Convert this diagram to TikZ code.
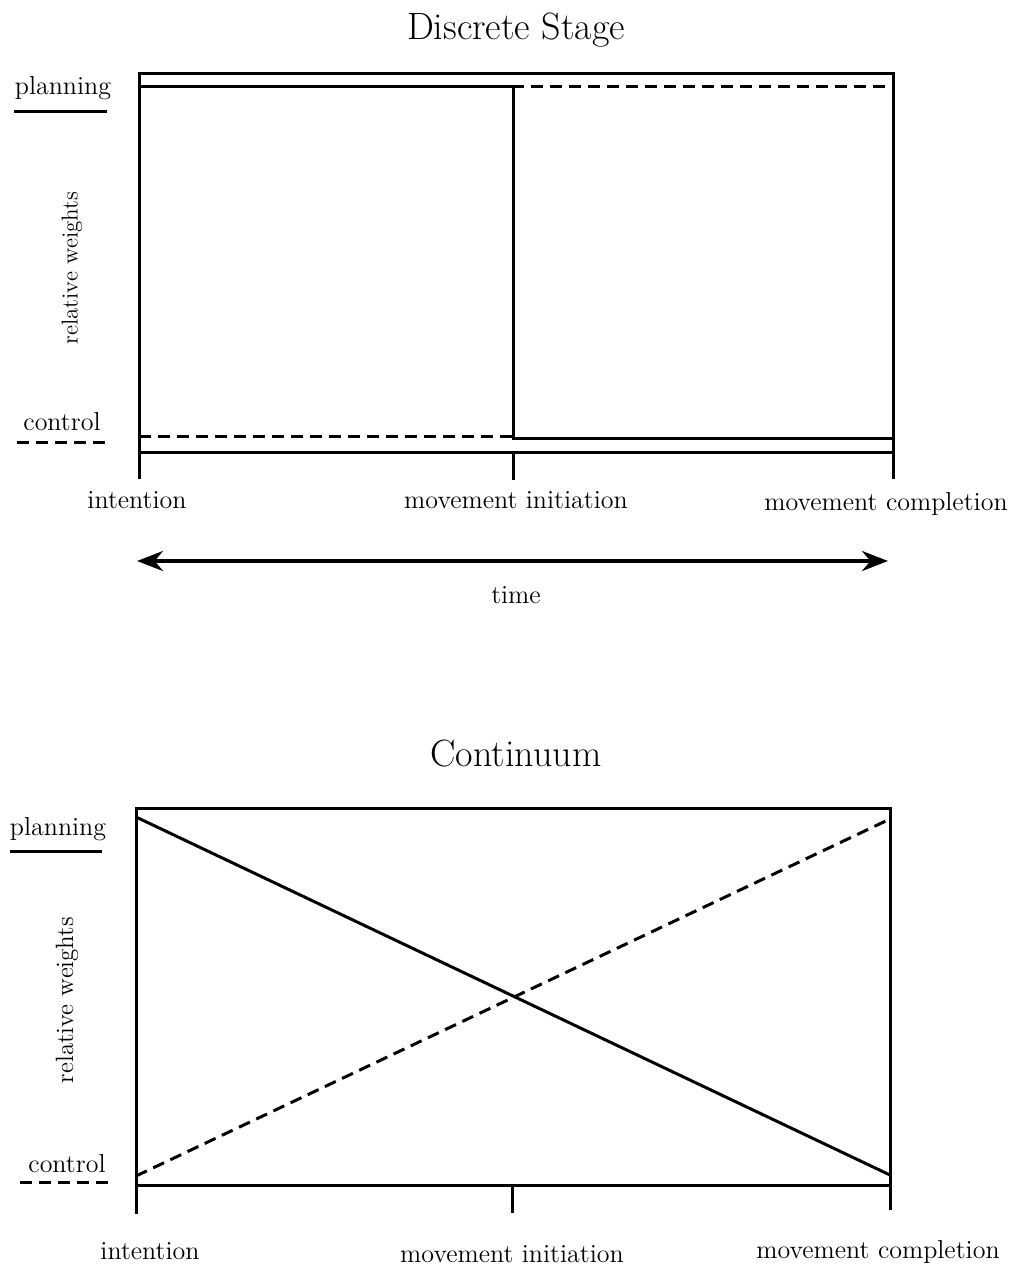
\documentclass[tikz,border=0pt]{standalone}
\usetikzlibrary{arrows.meta}
\begin{document}
\begin{tikzpicture}[x=0.5pt,y=-0.5pt,
  frame/.style={line width=1.5pt, line cap=rect},
  solidcurve/.style={line width=1.5pt},
  dashcurve/.style={line width=1.5pt, dash pattern=on 6pt off 3.5pt},
  lbl/.style={font=\fontsize{13}{15}\selectfont, anchor=base, inner sep=0pt},
  ttl/.style={font=\fontsize{19}{22}\selectfont, anchor=base, inner sep=0pt},
  axlbl/.style={font=\fontsize{11.5}{14}\selectfont, rotate=90, inner sep=0pt}]
\useasboundingbox (0,0) rectangle (1016,1268);

% ===== Top panel: Discrete Stage =====
\node[ttl] (t1) at (516,40) {Discrete Stage};
\coordinate (A1) at (139,74);
\coordinate (B1) at (893,74);
\coordinate (L1) at (139,477);
\coordinate (R1) at (893,477);
\coordinate (BL1) at (139,452);
\coordinate (BR1) at (893,452);
\coordinate (M1) at (513,452);
\coordinate (MT1) at (513,478);
\draw[frame] (L1) -- (A1) -- (B1) -- (R1);
\draw[frame] (BL1) -- (BR1);
\draw[frame] (M1) -- (MT1);
% planning (solid)
\coordinate (p1a) at (139,87);
\coordinate (p1b) at (513,87);
\coordinate (p1c) at (513,438);
\coordinate (p1d) at (893,438);
\draw[solidcurve] (p1a) -- (p1b) -- (p1c) -- (p1d);
% control (dashed)
\coordinate (c1a) at (139,436);
\coordinate (c1b) at (513,436);
\coordinate (c1c) at (513,87);
\coordinate (c1d) at (893,87);
\draw[dashcurve] (c1a) -- (c1b) -- (c1c) -- (c1d);
% legend
\node[lbl] (plan1) at (63,95) {planning};
\coordinate (pu1a) at (14,112);
\coordinate (pu1b) at (107,112);
\draw[solidcurve] (pu1a) -- (pu1b);
\node[lbl] (ctrl1) at (62,430) {control};
\coordinate (cu1a) at (17,442);
\coordinate (cu1b) at (110,442);
\draw[dashcurve] (cu1a) -- (cu1b);
\node[axlbl] (rw1) at (72,268) {relative weights};
% x labels
\node[lbl] (int1) at (137,508) {intention};
\node[lbl] (ini1) at (516,508) {movement initiation};
\node[lbl] (com1) at (886,510) {movement completion};
% time arrow
\coordinate (ta) at (137,561);
\coordinate (tb) at (888,561);
\draw[line width=2pt, {Stealth[length=13pt,width=10pt]}-{Stealth[length=13pt,width=10pt]}] (ta) -- (tb);
\node[lbl] (time) at (516,603) {time};

% ===== Bottom panel: Continuum =====
\node[ttl] (t2) at (516,766) {Continuum};
\coordinate (A2) at (136,808);
\coordinate (B2) at (890,808);
\coordinate (L2) at (136,1212);
\coordinate (R2) at (890,1208);
\coordinate (BL2) at (136,1185);
\coordinate (BR2) at (890,1185);
\coordinate (M2) at (512,1185);
\coordinate (MT2) at (512,1211);
\draw[frame] (L2) -- (A2) -- (B2) -- (R2);
\draw[frame] (BL2) -- (BR2);
\draw[frame] (M2) -- (MT2);
\coordinate (p2a) at (136,817);
\coordinate (p2b) at (890,1175);
\draw[solidcurve] (p2a) -- (p2b);
\coordinate (c2a) at (136,1176);
\coordinate (c2b) at (890,819);
\draw[dashcurve] (c2a) -- (c2b);
\node[lbl] (plan2) at (58,835) {planning};
\coordinate (pu2a) at (10,851);
\coordinate (pu2b) at (102,851);
\draw[solidcurve] (pu2a) -- (pu2b);
\node[lbl] (ctrl2) at (67,1172) {control};
\coordinate (cu2a) at (20,1182);
\coordinate (cu2b) at (112,1182);
\draw[dashcurve] (cu2a) -- (cu2b);
\node[axlbl, font=\fontsize{12.5}{14}\selectfont] (rw2) at (67,1000) {relative weights};
\node[lbl] (int2) at (150,1259) {intention};
\node[lbl] (ini2) at (512,1262) {movement initiation};
\node[lbl] (com2) at (878,1258) {movement completion};
\end{tikzpicture}
\end{document}
